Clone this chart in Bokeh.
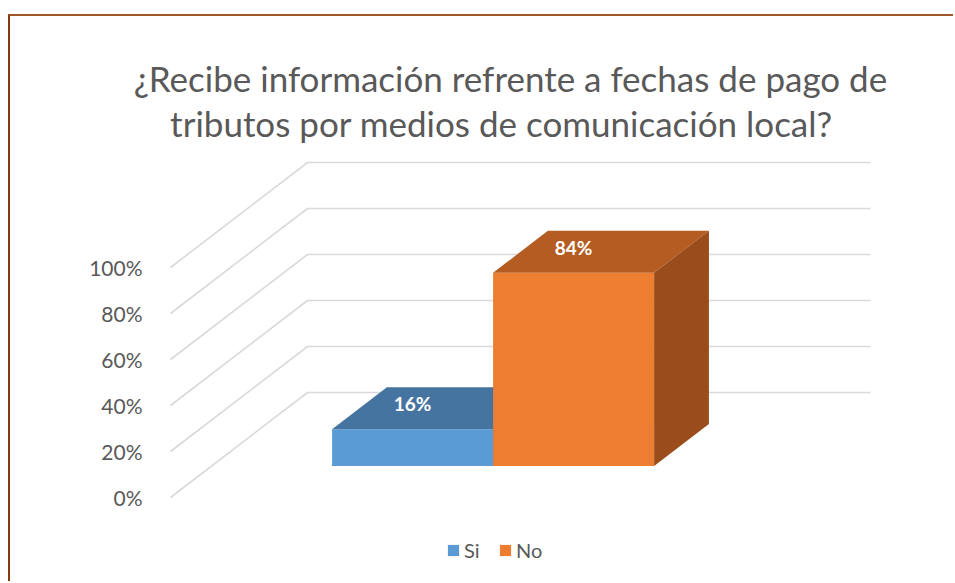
from bokeh.plotting import figure
from bokeh.models import Range1d, FixedTicker, NumeralTickFormatter, Legend, LegendItem, Label
from bokeh.core.properties import value
from bokeh.embed import file_html
from bokeh.resources import INLINE

# ---- data ----
series = ["Si", "No"]
shares = [0.16, 0.84]
share_labels = ["16%", "84%"]
tick_values = [0.0, 0.2, 0.4, 0.6, 0.8, 1.0]
title_lines = ["¿Recibe información refrente a fechas de pago de",
               "tributos por medios de comunicación local?"]

front_colors = ["#5B9BD5", "#ED7D31"]
top_colors = ["#4674A1", "#B45C22"]
side_colors = ["#3F6A92", "#9A4C1B"]

# ---- 3D layout constants (in data units) ----
DX = 137 / 563      # floor depth, horizontal shift (x units, floor width = 1)
DY = 105 / 230      # floor depth, vertical shift (value units)
T0, T1 = 0.30, 0.70  # bar depth position (fraction of floor depth)
GAP = 0.214          # gap before first bar (fraction of floor width)
BW = 0.286           # bar width
T_LABEL = 0.543

FONT = "Lato"
GREY = "#595959"

p = figure(width=945, height=567,
           x_range=Range1d(-50 / 563, 785 / 563), y_range=Range1d(-0.3739, 2.0913),
           output_backend="svg", toolbar_location=None,
           x_axis_location=None,
           min_border_left=110, min_border_right=0,
           min_border_top=0, min_border_bottom=0)
p.styles = {"position": "absolute", "left": "8px", "top": "14px", "margin": "0",
            "border-top": "2px solid #A0582A", "border-left": "2px solid #843C0C"}
p.outline_line_color = None
p.xgrid.visible = False
p.ygrid.visible = False
p.background_fill_color = "white"
p.border_fill_color = "white"

ax = p.yaxis[0]
ax.ticker = FixedTicker(ticks=tick_values)
ax.formatter = NumeralTickFormatter(format="0%")
ax.axis_line_color = None
ax.major_tick_line_color = None
ax.minor_tick_line_color = None
ax.major_label_text_font = FONT
ax.major_label_text_font_size = "21px"
ax.major_label_text_color = GREY
ax.major_label_standoff = -28

# gridlines: left wall diagonal + back wall horizontal
gx = [[0, DX, DX + 1] for v in tick_values]
gy = [[v, v + DY, v + DY] for v in tick_values]
p.multi_line(gx, gy, line_color="#D9D9D9", line_width=1.6)

legend_items = []
for i, (name, v) in enumerate(zip(series, shares)):
    xl0 = T0 * DX + GAP + i * BW
    xr0 = xl0 + BW
    xl1 = T1 * DX + GAP + i * BW
    xr1 = xl1 + BW
    yb0 = T0 * DY
    yb1 = T1 * DY
    front = p.patch([xl0, xr0, xr0, xl0], [yb0, yb0, yb0 + v, yb0 + v],
                    fill_color=front_colors[i], line_color=None)
    p.patch([xl0, xr0, xr1, xl1], [yb0 + v, yb0 + v, yb1 + v, yb1 + v],
            fill_color=top_colors[i], line_color=None)
    p.patch([xr0, xr1, xr1, xr0], [yb0, yb1, yb1 + v, yb0 + v],
            fill_color=side_colors[i], line_color=None)
    legend_items.append(LegendItem(label=name, renderers=[front]))

lab_x = [T0 * DX + GAP + (i + 0.5) * BW for i in range(len(shares))]
lab_y = [v + T_LABEL * DY for v in shares]
p.text(lab_x, lab_y, text=share_labels, text_align="center", text_baseline="middle",
       text_color="white", text_font=value(FONT), text_font_style="bold",
       text_font_size="19px")

# title
title_x = [(510 - 170) / 563, (501 - 170) / 563]
title_y = [(497 - 78) / 230, (497 - 123) / 230]
for tx, ty, line in zip(title_x, title_y, title_lines):
    p.add_layout(Label(x=tx, y=ty, text=line, text_align="center",
                       text_baseline="alphabetic", text_color=GREY,
                       text_font=FONT, text_font_size="35px"))

legend = Legend(items=legend_items, orientation="horizontal", location=(326, 21),
                glyph_width=14, glyph_height=14, label_standoff=4, spacing=14,
                padding=0, margin=0, border_line_color=None, background_fill_alpha=0,
                label_text_font=FONT, label_text_font_size="20px", label_text_color=GREY)
p.add_layout(legend)

open("out.html", "w").write(file_html(p, INLINE))
